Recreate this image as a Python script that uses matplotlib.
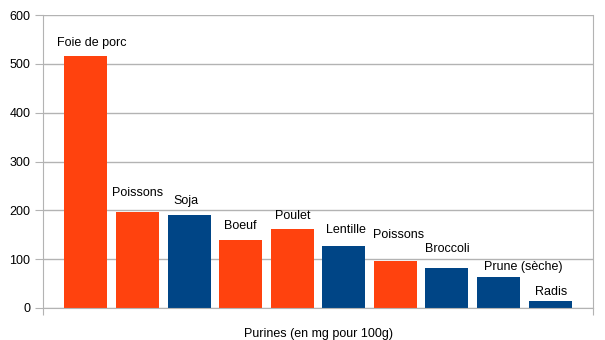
import matplotlib.pyplot as plt

plt.rcParams['font.family'] = ['Liberation Sans', 'DejaVu Sans']

foods = ['Foie de porc', 'Poissons', 'Soja', 'Boeuf', 'Poulet',
         'Lentille', 'Poissons', 'Broccoli', 'Prune (sèche)', 'Radis']
purines = [516, 197, 190, 139, 162, 127, 96, 82, 64, 14]
animal = [True, True, False, True, True, False, True, False, False, False]

# label offsets from bar top (pixels), labels were placed by hand
lab_dx = [6, 0, -3, 0, 1, 2, 3, 0, 25, 1]
lab_dy = [13, 19, 14, 14.5, 12.5, 15.5, 26.5, 18.5, 10, 9.5]

orange = '#FF420E'
blue = '#004586'
grey = '#b3b3b3'

fig = plt.figure(figsize=(6.05, 3.40), dpi=100)
ax = fig.add_axes([43/605, 32/340, 550/605, 293/340])

x = list(range(len(foods)))
cols = [orange if a else blue for a in animal]
ax.bar(x, purines, width=0.833, color=cols, zorder=2)

for i in x:
    ax.annotate(foods[i], (i, purines[i]), xytext=(lab_dx[i]*0.72, lab_dy[i]*0.72),
                textcoords='offset points', ha='center', va='center', fontsize=9)

ax.set_xlim(-0.833, 9.833)
ax.set_ylim(0, 600)
ax.set_yticks(range(0, 601, 100))
ax.set_xticks([-0.833, 9.833])
ax.set_xticklabels([])
ax.yaxis.grid(True, color=grey, linewidth=1)
ax.set_axisbelow(True)
for s in ax.spines.values():
    s.set_color(grey)
ax.spines['top'].set_visible(False)
ax.tick_params(axis='y', colors=grey, labelcolor='black', length=6, labelsize=9, pad=3)
ax.tick_params(axis='x', colors=grey, length=5)
ax.set_xlabel('Purines (en mg pour 100g)', fontsize=9, labelpad=6)

plt.savefig('out.png', dpi=100)
